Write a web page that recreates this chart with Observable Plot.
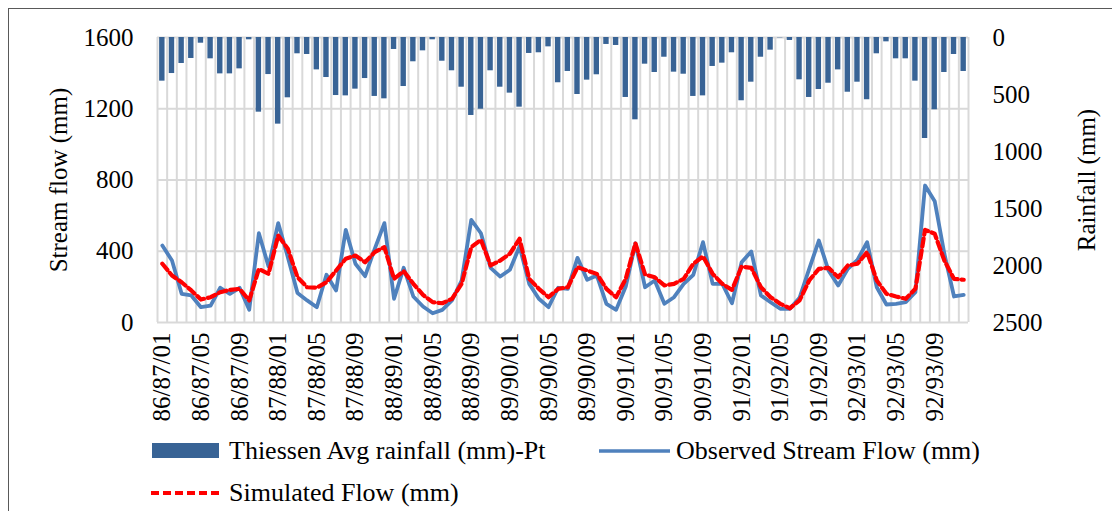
<!DOCTYPE html>
<html><head><meta charset="utf-8">
<script src="https://cdn.jsdelivr.net/npm/d3@7"></script>
<script src="https://cdn.jsdelivr.net/npm/@observablehq/plot@0.6"></script>
<style>
body{margin:0;background:#fff;}
#wrap{position:relative;width:1112px;height:511px;overflow:hidden;font-family:"Liberation Serif","Times New Roman",serif;}
#border{position:absolute;left:8px;top:8px;right:-10px;bottom:-10px;border-left:1.5px solid #595959;border-top:1.5px solid #595959;}
#chart{position:absolute;left:0;top:0;}
.leg{position:absolute;font-size:26px;height:28px;line-height:28px;color:#000;white-space:nowrap;}
.sw{position:absolute;}
</style></head><body>
<div id="wrap"><div id="border"></div><div id="chart"></div><div id="legend"></div></div>
<script>
// Thiessen average rainfall (mm), monthly 86/87/01 .. 92/93/12
const rainfall = [383,316,228,184,50,187,319,319,275,20,655,325,
  760,529,143,149,284,351,509,512,453,360,517,538,
  105,430,213,117,20,208,292,436,684,629,292,436,
  488,611,140,134,82,397,298,500,374,327,61,70,
  526,722,234,307,173,304,322,517,512,254,225,134,
  555,392,173,111,3,26,371,526,456,401,284,480,
  392,546,143,38,187,187,383,886,634,307,149,298];
// Observed stream flow (mm)
const observed = [432,348,161,152,86,95,195,161,195,71,501,314,
  558,367,165,124,86,268,180,520,330,260,414,558,
  133,307,146,90,52,71,124,236,576,501,307,258,
  296,427,217,133,86,195,189,363,240,264,105,71,
  202,445,198,236,105,142,217,268,451,217,217,108,
  338,399,152,114,77,77,139,301,460,292,208,301,
  352,451,198,101,105,114,170,769,681,386,146,155];
// Simulated flow (mm)
const simulated = [330,264,226,180,129,142,170,183,189,124,301,273,
  488,414,254,198,195,226,292,358,376,338,395,423,
  245,288,217,155,114,108,133,217,423,464,320,348,
  386,470,245,189,142,189,198,310,292,273,189,142,
  245,445,269,254,208,217,245,330,371,273,217,183,
  314,307,198,142,105,80,124,236,301,307,254,320,
  330,395,236,161,146,133,189,520,498,348,245,240];
const tickLabels = ["86/87/01","86/87/05","86/87/09","87/88/01","87/88/05","87/88/09",
  "88/89/01","88/89/05","88/89/09","89/90/01","89/90/05","89/90/09",
  "90/91/01","90/91/05","90/91/09","91/92/01","91/92/05","91/92/09",
  "92/93/01","92/93/05","92/93/09"];
const flowTicks = [0,400,800,1200,1600];
const rainTicks = [0,500,1000,1500,2000,2500];
const legendNames = ["Thiessen Avg rainfall (mm)-Pt","Observed Stream Flow (mm)","Simulated Flow (mm)"];

const N = rainfall.length;
const idx = d3.range(N);
const FLOWMAX = 1600, RAINMAX = 2500;
const rainToFlow = r => FLOWMAX - r * FLOWMAX / RAINMAX;
const tickPos = tickLabels.map((_, k) => k * 4 + 0.5);
const labelAt = new Map(tickPos.map((p, k) => [p, tickLabels[k]]));

const barColor = "#386395", obsColor = "#4F81BD", simColor = "#FF0000", grid = "#d9d9d9";
const FONT = "'Liberation Serif', 'Times New Roman', serif";

const chart = Plot.plot({
  width: 1112, height: 435,
  marginLeft: 157, marginRight: 144, marginTop: 37, marginBottom: 113,
  style: {fontSize: "25px", color: "#000", background: "transparent", overflow: "visible"},
  x: {domain: [0, N], axis: null},
  y: {domain: [0, FLOWMAX], axis: null},
  marks: [
    Plot.ruleX(d3.range(N + 1), {stroke: grid, strokeWidth: 2}),
    Plot.ruleY(flowTicks, {stroke: grid, strokeWidth: 2}),
    Plot.rect(idx, {x1: i => i + 0.22, x2: i => i + 0.78, y1: i => FLOWMAX, y2: i => rainToFlow(rainfall[i]), fill: barColor}),
    Plot.line(idx, {x: i => i + 0.5, y: i => observed[i], stroke: obsColor, strokeWidth: 3.8, strokeLinejoin: "round"}),
    Plot.line(idx, {x: i => i + 0.5, y: i => simulated[i], stroke: simColor, strokeWidth: 4.2, strokeDasharray: "8,4", strokeLinejoin: "round"}),
    Plot.axisY(flowTicks, {anchor: "left", tickSize: 0, tickPadding: 24, label: null, fontSize: 25,
      tickFormat: v => String(v)}),
    Plot.axisY(rainTicks.map(rainToFlow), {anchor: "right", tickSize: 0, tickPadding: 24, label: null, fontSize: 25,
      tickFormat: v => String(Math.round((FLOWMAX - v) * RAINMAX / FLOWMAX))}),
    Plot.axisX(tickPos, {anchor: "bottom", tickSize: 0, tickPadding: 10, tickRotate: -90, label: null, fontSize: 25,
      tickFormat: v => labelAt.get(v)}),
    Plot.text(["Stream flow (mm)"], {frameAnchor: "left", dx: -99, rotate: -90, text: d => d, fontSize: 25, fill: "#000",
      textAnchor: "middle", lineAnchor: "middle"}),
    Plot.text(["Rainfall (mm)"], {frameAnchor: "right", dx: 118, rotate: -90, text: d => d, fontSize: 25, fill: "#000",
      textAnchor: "middle", lineAnchor: "middle"})
  ]
});
// force serif font on every svg element carrying text
chart.style.setProperty("font-family", FONT, "important");
d3.select(chart).selectAll("g, text, tspan")
  .attr("font-family", FONT)
  .each(function(){ this.style.setProperty("font-family", FONT, "important"); });
document.getElementById("chart").appendChild(chart);

// legend
const lg = document.getElementById("legend");
function add(html){ lg.insertAdjacentHTML("beforeend", html); }
add(`<div class="sw" style="left:152px;top:443px;width:67px;height:15px;background:${barColor}"></div>`);
add(`<div class="leg" style="left:229px;top:437px">${legendNames[0]}</div>`);
add(`<svg class="sw" style="left:599px;top:446px" width="71" height="10"><line x1="0" x2="71" y1="5" y2="5" stroke="${obsColor}" stroke-width="3.5"/></svg>`);
add(`<div class="leg" style="left:676px;top:437px">${legendNames[1]}</div>`);
add(`<svg class="sw" style="left:151px;top:488px" width="70" height="10"><line x1="0" x2="70" y1="5" y2="5" stroke="${simColor}" stroke-width="4" stroke-dasharray="8,4"/></svg>`);
add(`<div class="leg" style="left:229px;top:479px">${legendNames[2]}</div>`);
</script>
</body></html>
